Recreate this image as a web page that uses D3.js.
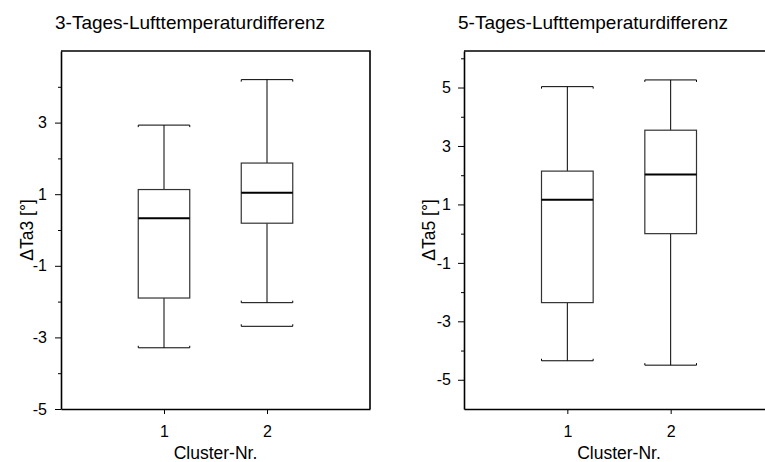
<!DOCTYPE html>
<html>
<head>
<meta charset="utf-8">
<script src="https://cdn.jsdelivr.net/npm/d3@7"></script>
<style>
  body { margin: 0; background: #fff; }
  svg { display: block; font-family: "Liberation Sans", Arial, sans-serif; }
</style>
</head>
<body>
<svg id="chart" width="765" height="462"></svg>
<script>
// cluster ids on the x axis
const clusters = [1, 2];

// 3-day difference, box stats per cluster
const ta3Upper  = [2.93, 4.20];
const ta3Q3     = [1.13, 1.87];
const ta3Median = [0.33, 1.04];
const ta3Q1     = [-1.90, 0.19];
const ta3Lower  = [-3.29, -2.03];
const ta3Extra  = [null, -2.69];
const ta3Ticks  = [-5, -3, -1, 1, 3];
const ta3Minor  = [-4, -2, 0, 2, 4];

// 5-day difference, box stats per cluster
const ta5Upper  = [5.03, 5.26];
const ta5Q3     = [2.14, 3.54];
const ta5Median = [1.16, 2.02];
const ta5Q1     = [-2.36, 0.00];
const ta5Lower  = [-4.35, -4.50];
const ta5Extra  = [null, null];
const ta5Ticks  = [-5, -3, -1, 1, 3, 5];
const ta5Minor  = [-4, -2, 0, 2, 4, 6];

const svg = d3.select('#chart');
const plain = d => String(d);   // keep hyphen-minus like the original

function drawPanel(p) {
    const x = d3.scaleLinear().domain([0, 3]).range([p.left, p.right]);
    const y = d3.scaleLinear().domain(p.yDomain).range([409, 51]);
    const g = svg.append('g');

    const stats = clusters.map((c, i) => ({
        c: c, hi: p.upper[i], q3: p.q3[i], med: p.median[i],
        q1: p.q1[i], lo: p.lower[i], extra: p.extra[i]
    }));

    // frame (top + right)
    g.append('path')
        .attr('d', `M${p.left},51H${p.right}V409`)
        .attr('fill', 'none').attr('stroke', '#000').attr('stroke-width', 1.6);

    // minor y ticks
    g.append('g').attr('transform', `translate(${p.left},0)`)
        .call(d3.axisLeft(y).tickValues(p.minor).tickSize(3).tickSizeOuter(0).tickFormat(''))
        .call(a => a.select('.domain').remove());

    // major y ticks
    const ya = g.append('g').attr('transform', `translate(${p.left},0)`)
        .call(d3.axisLeft(y).tickValues(p.ticks).tickSize(6).tickSizeOuter(0)
            .tickPadding(p.pad).tickFormat(plain));
    ya.select('.domain').attr('stroke-width', 1.6);
    ya.selectAll('text').attr('font-size', 16).attr('fill', '#000');

    // x axis
    const xa = g.append('g').attr('transform', 'translate(0,409)')
        .call(d3.axisBottom(x).tickValues(clusters).tickSize(5).tickSizeOuter(0).tickPadding(12)
            .tickFormat(plain));
    xa.select('.domain').attr('stroke-width', 1.6);
    xa.selectAll('text').attr('font-size', 16).attr('fill', '#000');

    // title + axis labels
    g.append('text').attr('x', p.left - 6).attr('y', 29)
        .attr('font-size', 19).text(p.title);
    g.append('text').attr('x', (p.left + p.right) / 2).attr('y', 459)
        .attr('text-anchor', 'middle').attr('font-size', 17.5).text('Cluster-Nr.');
    g.append('text')
        .attr('transform', `translate(${p.labelX},230) rotate(-90)`)
        .attr('text-anchor', 'middle').attr('font-size', 17.5).text(p.yLabel);

    const half = (x(1) - x(0)) / 4;
    const box = g.selectAll('.box').data(stats).enter().append('g').attr('class', 'box');

    // whiskers
    box.append('line')
        .attr('x1', d => x(d.c)).attr('x2', d => x(d.c))
        .attr('y1', d => y(d.hi)).attr('y2', d => y(d.q3))
        .attr('stroke', '#000');
    box.append('line')
        .attr('x1', d => x(d.c)).attr('x2', d => x(d.c))
        .attr('y1', d => y(d.q1)).attr('y2', d => y(d.lo))
        .attr('stroke', '#000');

    // caps with small hooks
    const cap = (sel, key, dir) => sel.filter(d => d[key] != null).append('path')
        .attr('d', d => {
            const yy = y(d[key]);
            return `M${x(d.c) - half},${yy + dir * 2}V${yy}H${x(d.c) + half}V${yy + dir * 2}`;
        })
        .attr('fill', 'none').attr('stroke', '#000');
    cap(box, 'hi', 1);
    cap(box, 'lo', -1);
    cap(box, 'extra', -1);

    // box
    box.append('rect')
        .attr('x', d => x(d.c) - half).attr('width', half * 2)
        .attr('y', d => y(d.q3)).attr('height', d => y(d.q1) - y(d.q3))
        .attr('fill', '#fff').attr('stroke', '#333').attr('stroke-width', 1.2);

    // median
    box.append('line')
        .attr('x1', d => x(d.c) - half).attr('x2', d => x(d.c) + half)
        .attr('y1', d => y(d.med)).attr('y2', d => y(d.med))
        .attr('stroke', '#000').attr('stroke-width', 2);
}

drawPanel({
    left: 61, right: 370, yDomain: [-5, 5], pad: 8, labelX: 33,
    title: '3-Tages-Lufttemperaturdifferenz', yLabel: '\u0394Ta3 [\u00b0]',
    upper: ta3Upper, q3: ta3Q3, median: ta3Median, q1: ta3Q1, lower: ta3Lower, extra: ta3Extra,
    ticks: ta3Ticks, minor: ta3Minor
});

drawPanel({
    left: 464, right: 774, yDomain: [-6, 6.25], pad: 7, labelX: 435,
    title: '5-Tages-Lufttemperaturdifferenz', yLabel: '\u0394Ta5 [\u00b0]',
    upper: ta5Upper, q3: ta5Q3, median: ta5Median, q1: ta5Q1, lower: ta5Lower, extra: ta5Extra,
    ticks: ta5Ticks, minor: ta5Minor
});
</script>
</body>
</html>
